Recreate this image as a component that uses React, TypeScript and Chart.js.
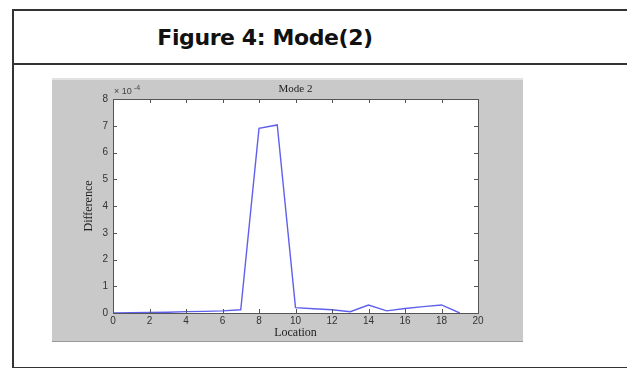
import React, { useEffect, useRef } from "react";
import { Chart, registerables } from "chart.js";

Chart.register(...registerables);

// Data (difference values in units of 1e-4)
const locations = [0, 1, 2, 3, 4, 5, 6, 7, 8, 9, 10, 11, 12, 13, 14, 15, 16, 17, 18, 19];
const difference = [0, 0.01, 0.02, 0.03, 0.05, 0.06, 0.08, 0.12, 6.9, 7.03, 0.2, 0.16, 0.12, 0.05, 0.3, 0.08, 0.17, 0.24, 0.3, 0];
const xTicks = [0, 2, 4, 6, 8, 10, 12, 14, 16, 18, 20];
const yTicks = [0, 1, 2, 3, 4, 5, 6, 7, 8];
const plotTitle = "Mode 2";
const xLabel = "Location";
const yLabel = "Difference";
const figureTitle = "Figure 4: Mode(2)";

const matlabPlugin = {
  id: "matlabLook",
  beforeDraw(chart: any) {
    const { ctx, chartArea, width, height } = chart;
    ctx.save();
    ctx.fillStyle = "#c9c9c9";
    ctx.fillRect(0, 0, width, height);
    ctx.fillStyle = "#e2e2e2";
    ctx.fillRect(0, 0, width, 2);
    ctx.fillStyle = "#9a9a9a";
    ctx.fillRect(0, height - 1, width, 1);
    ctx.fillStyle = "#ffffff";
    ctx.fillRect(chartArea.left, chartArea.top, chartArea.right - chartArea.left, chartArea.bottom - chartArea.top);
    ctx.restore();
  },
  afterDraw(chart: any) {
    const { ctx, chartArea } = chart;
    const xs = chart.scales.x;
    const ys = chart.scales.y;
    const { left, right, top, bottom } = chartArea;
    ctx.save();
    ctx.strokeStyle = "#555555";
    ctx.lineWidth = 1;
    ctx.beginPath();
    const tl = 4;
    xTicks.forEach((v) => {
      const px = Math.round(xs.getPixelForValue(v)) + 0.5;
      ctx.moveTo(px, bottom);
      ctx.lineTo(px, bottom - tl);
      ctx.moveTo(px, top);
      ctx.lineTo(px, top + tl);
    });
    yTicks.forEach((v) => {
      const py = Math.round(ys.getPixelForValue(v)) + 0.5;
      ctx.moveTo(left, py);
      ctx.lineTo(left + tl, py);
      ctx.moveTo(right, py);
      ctx.lineTo(right - tl, py);
    });
    ctx.stroke();
    ctx.strokeRect(Math.round(left) + 0.5, Math.round(top) + 0.5, Math.round(right - left), Math.round(bottom - top));
    // title
    ctx.fillStyle = "#222222";
    ctx.font = "11px 'Liberation Serif'";
    ctx.textAlign = "center";
    ctx.textBaseline = "middle";
    ctx.fillText(plotTitle, (left + right) / 2, top - 10);
    // exponent label
    ctx.fillStyle = "#444444";
    ctx.textAlign = "left";
    ctx.font = "9px 'Liberation Sans'";
    ctx.fillText("\u00d7 10", left + 1, top - 7);
    ctx.font = "7px 'Liberation Sans'";
    ctx.fillText("-4", left + 21, top - 11);
    ctx.restore();
  },
};

export default function App() {
  const ref = useRef<HTMLCanvasElement | null>(null);
  useEffect(() => {
    if (!ref.current) return;
    const chart = new Chart(ref.current, {
      type: "line",
      data: {
        datasets: [
          {
            data: locations.map((x, i) => ({ x, y: difference[i] })),
            borderColor: "#6060ee",
            borderWidth: 1.4,
            pointRadius: 0,
            tension: 0,
            fill: false,
          },
        ],
      },
      options: {
        animation: false,
        responsive: false,
        events: [],
        layout: { padding: { left: 30, right: 45, top: 21, bottom: 0 } },
        plugins: { legend: { display: false }, tooltip: { enabled: false } },
        scales: {
          x: {
            type: "linear",
            min: 0,
            max: 20,
            afterFit: (s: any) => {
              s.height = 29;
            },
            afterBuildTicks: (s: any) => {
              s.ticks = xTicks.map((v) => ({ value: v }));
            },
            grid: { display: false, drawTicks: false },
            border: { display: false },
            ticks: {
              padding: 2,
              color: "#333333",
              font: { family: "'Liberation Sans'", size: 10 },
              maxRotation: 0,
            },
            title: {
              display: true,
              text: xLabel,
              color: "#222222",
              font: { family: "'Liberation Serif'", size: 12 },
              padding: { top: 0, bottom: 2 },
            },
          },
          y: {
            type: "linear",
            min: 0,
            max: 8,
            afterFit: (s: any) => {
              s.width = 31;
            },
            afterBuildTicks: (s: any) => {
              s.ticks = yTicks.map((v) => ({ value: v }));
            },
            grid: { display: false, drawTicks: false },
            border: { display: false },
            ticks: {
              padding: 5,
              color: "#333333",
              font: { family: "'Liberation Sans'", size: 10 },
            },
            title: {
              display: true,
              text: yLabel,
              color: "#222222",
              font: { family: "'Liberation Serif'", size: 12 },
              padding: { top: 0, bottom: 0 },
            },
          },
        },
      },
      plugins: [matlabPlugin],
    } as any);
    return () => chart.destroy();
  }, []);

  return (
    <div style={{ position: "absolute", left: 0, top: 0, width: 627, height: 368, background: "#ffffff", overflow: "hidden" }}>
      <div
        style={{
          position: "absolute",
          left: 12,
          top: 9,
          width: 700,
          height: 356,
          border: "2px solid #333333",
          boxSizing: "content-box",
        }}
      />
      <div style={{ position: "absolute", left: 12, top: 63, width: 700, height: 2, background: "#333333" }} />
      <div
        style={{
          position: "absolute",
          left: 14,
          top: 12,
          width: 502,
          height: 51,
          lineHeight: "51px",
          textAlign: "center",
          fontFamily: "'DejaVu Sans'",
          fontWeight: "bold",
          fontSize: 22,
          color: "#111111",
          letterSpacing: -0.4,
        }}
      >
        {figureTitle}
      </div>
      <canvas ref={ref} width={471} height={264} style={{ position: "absolute", left: 52, top: 78, width: 471, height: 264 }} />
    </div>
  );
}
